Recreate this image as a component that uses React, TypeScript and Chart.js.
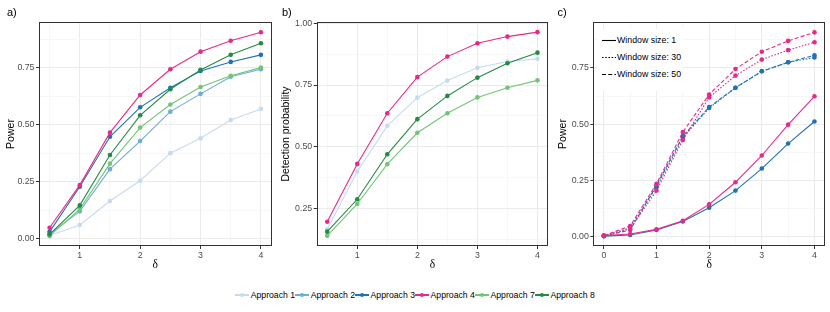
import React, { useEffect, useRef } from 'react';
import { Chart, registerables } from 'chart.js';
Chart.register(...registerables);

const FONT = '"Liberation Sans", Arial, Helvetica, sans-serif';
const SERIF = '"Liberation Serif", "DejaVu Serif", serif';

// ---- data ----
const deltaAB = [0.5, 1, 1.5, 2, 2.5, 3, 3.5, 4];
const deltaC = [0, 0.5, 1, 1.5, 2, 2.5, 3, 3.5, 4];

const approachNames = ['Approach 1', 'Approach 2', 'Approach 3', 'Approach 4', 'Approach 7', 'Approach 8'];
const approachColors = ['#c6dbef', '#6baed6', '#2171b5', '#e7298a', '#74c476', '#238b45'];

// panel a: power
const powerA1 = [0.014, 0.060, 0.165, 0.254, 0.375, 0.440, 0.520, 0.569];
const powerA2 = [0.020, 0.120, 0.305, 0.428, 0.557, 0.635, 0.710, 0.743];
const powerA3 = [0.030, 0.228, 0.447, 0.576, 0.662, 0.735, 0.775, 0.806];
const powerA4 = [0.048, 0.235, 0.465, 0.630, 0.743, 0.820, 0.868, 0.905];
const powerA7 = [0.012, 0.130, 0.329, 0.487, 0.588, 0.665, 0.714, 0.750];
const powerA8 = [0.019, 0.146, 0.367, 0.541, 0.655, 0.740, 0.806, 0.857];

// panel b: detection probability
const detectB1 = [0.167, 0.400, 0.585, 0.699, 0.768, 0.820, 0.845, 0.856];
const detectB4 = [0.197, 0.431, 0.636, 0.782, 0.865, 0.919, 0.946, 0.964];
const detectB7 = [0.140, 0.269, 0.430, 0.557, 0.636, 0.700, 0.739, 0.769];
const detectB8 = [0.157, 0.288, 0.470, 0.612, 0.706, 0.780, 0.838, 0.881];

// panel c: power by window size (Approach 3 blue, Approach 4 pink)
const powerC3w1 = [0.003, 0.008, 0.030, 0.068, 0.129, 0.205, 0.303, 0.414, 0.512];
const powerC4w1 = [0.005, 0.012, 0.033, 0.071, 0.144, 0.242, 0.361, 0.498, 0.624];
const powerC3w30 = [0.003, 0.040, 0.220, 0.440, 0.572, 0.662, 0.735, 0.775, 0.796];
const powerC4w30 = [0.005, 0.035, 0.205, 0.430, 0.619, 0.716, 0.787, 0.829, 0.864];
const powerC3w50 = [0.003, 0.030, 0.228, 0.447, 0.576, 0.662, 0.735, 0.775, 0.806];
const powerC4w50 = [0.005, 0.048, 0.235, 0.465, 0.632, 0.745, 0.822, 0.870, 0.908];

const windowLabels = ['Window size: 1', 'Window size: 30', 'Window size: 50'];
const windowDashes = [[], [1.6, 1.6], [4, 2.2]];

const ticksXab = [0.5, 1, 1.5, 2, 2.5, 3, 3.5, 4];
const ticksXc = [0, 0.5, 1, 1.5, 2, 2.5, 3, 3.5, 4];
const ticksYac = [0, 0.125, 0.25, 0.375, 0.5, 0.625, 0.75, 0.875];
const ticksYb = [0.125, 0.25, 0.375, 0.5, 0.625, 0.75, 0.875, 1.0];

const isInt = (v: number) => Math.abs(v - Math.round(v)) < 1e-6;
const isQuarter = (v: number) => Math.abs(v / 0.25 - Math.round(v / 0.25)) < 1e-6;

const framePlugin = {
  id: 'frame',
  afterDatasetsDraw(chart: any) {
    const { ctx, chartArea } = chart;
    const { left, top, right, bottom } = chartArea;
    ctx.save();
    ctx.strokeStyle = '#333333';
    ctx.lineWidth = 1;
    ctx.strokeRect(Math.round(left) + 0.5, Math.round(top) + 0.5, Math.round(right) - Math.round(left) - 1, Math.round(bottom) - Math.round(top) - 1);
    ctx.restore();
  },
};

function ds(label: string, xs: number[], ys: number[], color: string, order: number, dash: number[] = []) {
  return {
    label,
    data: xs.map((x, i) => ({ x, y: ys[i] })),
    borderColor: color,
    backgroundColor: color,
    pointBackgroundColor: color,
    pointBorderColor: color,
    pointBorderWidth: 0,
    pointRadius: 2.3,
    borderWidth: 1.1,
    borderDash: dash,
    order,
    tension: 0,
    clip: false as any,
  };
}

interface P {
  xmin: number; xmax: number; xticks: number[];
  ymin: number; ymax: number; yticks: number[];
  yTitle: string; yWidth: number; yTitlePad: number; padRight: number;
}

function buildOptions(p: P): any {
  const gridCommon = (major: (v: number) => boolean) => ({
    color: (c: any) => (major(c.tick?.value) ? '#ebebeb' : '#f3f3f3'),
    lineWidth: (c: any) => (major(c.tick?.value) ? 1 : 0.7),
    tickColor: (c: any) => (major(c.tick?.value) ? '#333333' : 'rgba(0,0,0,0)'),
    tickWidth: 1,
    tickLength: 3,
    drawTicks: true,
  });
  return {
    responsive: false,
    animation: false,
    devicePixelRatio: 1,
    layout: { padding: { top: 22, right: p.padRight, left: 0, bottom: 0 } },
    plugins: { legend: { display: false }, tooltip: { enabled: false }, title: { display: false } },
    scales: {
      x: {
        type: 'linear',
        min: p.xmin,
        max: p.xmax,
        afterBuildTicks: (axis: any) => { axis.ticks = p.xticks.map((v) => ({ value: v })); },
        afterFit: (axis: any) => { axis.height = 30; },
        ticks: {
          autoSkip: false,
          maxRotation: 0,
          padding: 1,
          color: '#4d4d4d',
          font: { family: FONT, size: 8.8 },
          callback: (v: any) => (isInt(v) ? String(Math.round(v)) : ''),
        },
        grid: gridCommon(isInt),
        border: { display: false },
        title: { display: true, text: 'δ', color: '#000', font: { family: SERIF, size: 11.5 }, padding: { top: 0, bottom: 4.5 } },
      },
      y: {
        type: 'linear',
        min: p.ymin,
        max: p.ymax,
        afterBuildTicks: (axis: any) => { axis.ticks = p.yticks.map((v) => ({ value: v })); },
        afterFit: (axis: any) => { axis.width = p.yWidth; },
        ticks: {
          autoSkip: false,
          padding: 1.5,
          color: '#4d4d4d',
          font: { family: FONT, size: 8.8 },
          callback: (v: any) => (isQuarter(v) ? Number(v).toFixed(2) : ''),
        },
        grid: gridCommon(isQuarter),
        border: { display: false },
        title: { display: true, text: p.yTitle, color: '#000', font: { family: FONT, size: 10.5 }, padding: { top: p.yTitlePad, bottom: 0 } },
      },
    },
  };
}

function ChartBox(props: { left: number; width: number; height: number; make: () => any }) {
  const ref = useRef<HTMLCanvasElement | null>(null);
  useEffect(() => {
    if (!ref.current) return;
    const chart = new Chart(ref.current, props.make());
    return () => chart.destroy();
  }, []);
  return (
    <canvas
      ref={ref}
      width={props.width}
      height={props.height}
      style={{ position: 'absolute', left: props.left, top: 0, width: props.width, height: props.height }}
    />
  );
}

const makeA = () => {
  const series = [powerA1, powerA2, powerA3, powerA4, powerA7, powerA8];
  return {
    type: 'line',
    data: { datasets: series.map((s, i) => ds(approachNames[i], deltaAB, s, approachColors[i], series.length - i)) },
    options: buildOptions({ xmin: 0.325, xmax: 4.175, xticks: ticksXab, ymin: -0.032, ymax: 0.95, yticks: ticksYac, yTitle: 'Power', yWidth: 39, yTitlePad: 5, padRight: 4.5 }),
    plugins: [framePlugin],
  };
};

const makeB = () => {
  const series = [detectB1, detectB4, detectB7, detectB8];
  const idx = [0, 3, 4, 5];
  return {
    type: 'line',
    data: { datasets: series.map((s, i) => ds(approachNames[idx[i]], deltaAB, s, approachColors[idx[i]], series.length - i)) },
    options: buildOptions({ xmin: 0.325, xmax: 4.175, xticks: ticksXab, ymin: 0.099, ymax: 1.005, yticks: ticksYb, yTitle: 'Detection probability', yWidth: 40.7, yTitlePad: 3.7, padRight: 3.7 }),
    plugins: [framePlugin],
  };
};

const makeC = () => {
  const blue = approachColors[2];
  const pink = approachColors[3];
  const datasets = [
    ds('Approach 3 ' + windowLabels[0], deltaC, powerC3w1, blue, 6, windowDashes[0]),
    ds('Approach 3 ' + windowLabels[1], deltaC, powerC3w30, blue, 5, windowDashes[1]),
    ds('Approach 3 ' + windowLabels[2], deltaC, powerC3w50, blue, 4, windowDashes[2]),
    ds('Approach 4 ' + windowLabels[0], deltaC, powerC4w1, pink, 3, windowDashes[0]),
    ds('Approach 4 ' + windowLabels[1], deltaC, powerC4w30, pink, 2, windowDashes[1]),
    ds('Approach 4 ' + windowLabels[2], deltaC, powerC4w50, pink, 1, windowDashes[2]),
  ];
  return {
    type: 'line',
    data: { datasets },
    options: buildOptions({ xmin: -0.2, xmax: 4.2, xticks: ticksXc, ymin: -0.041, ymax: 0.954, yticks: ticksYac, yTitle: 'Power', yWidth: 41.3, yTitlePad: 5, padRight: 5 }),
    plugins: [framePlugin],
  };
};

const labelStyle = (left: number): React.CSSProperties => ({
  position: 'absolute', left, top: 6.5, fontFamily: FONT, fontSize: 11, lineHeight: '11px', color: '#000',
});

export default function App() {
  return (
    <div style={{ position: 'absolute', left: 0, top: 0, width: 830, height: 312, background: '#fff', overflow: 'hidden' }}>
      <ChartBox left={0} width={276} height={276} make={makeA} />
      <ChartBox left={276} width={276} height={276} make={makeB} />
      <ChartBox left={552} width={278} height={276} make={makeC} />
      <div style={labelStyle(7)}>a)</div>
      <div style={labelStyle(282)}>b)</div>
      <div style={labelStyle(557.5)}>c)</div>
      {/* window size legend inside panel c */}
      <div style={{ position: 'absolute', left: 597, top: 29, width: 86, height: 62, background: '#fff' }}>
        {windowLabels.map((t, i) => (
          <div key={t} style={{ position: 'absolute', left: 0, top: 4 + i * 17, height: 14, display: 'flex', alignItems: 'center' }}>
            <svg width={20} height={14} style={{ display: 'block' }}>
              <line x1={5} x2={19} y1={7.5} y2={7.5} stroke="#000" strokeWidth={1.1} strokeDasharray={windowDashes[i].length ? windowDashes[i].join(' ') : undefined} />
            </svg>
            <span style={{ fontFamily: FONT, fontSize: 8.8, color: '#000', whiteSpace: 'nowrap' }}>{t}</span>
          </div>
        ))}
      </div>
      {/* approach legend at bottom */}
      <div style={{ position: 'absolute', left: 0, top: 288, width: 830, height: 14, display: 'flex', justifyContent: 'center', alignItems: 'center' }}>
        {approachNames.map((n, i) => (
          <div key={n} style={{ display: 'flex', alignItems: 'center' }}>
            <div style={{ position: 'relative', width: 14, height: 14, marginRight: 1.5 }}>
              <div style={{ position: 'absolute', left: 0, top: 6, width: 14, height: 2, background: approachColors[i] }} />
              <div style={{ position: 'absolute', left: 5, top: 5, width: 4, height: 4, borderRadius: 2, background: approachColors[i] }} />
            </div>
            <span style={{ fontFamily: FONT, fontSize: 8.7, color: '#000', whiteSpace: 'nowrap' }}>{n}</span>
          </div>
        ))}
      </div>
    </div>
  );
}
